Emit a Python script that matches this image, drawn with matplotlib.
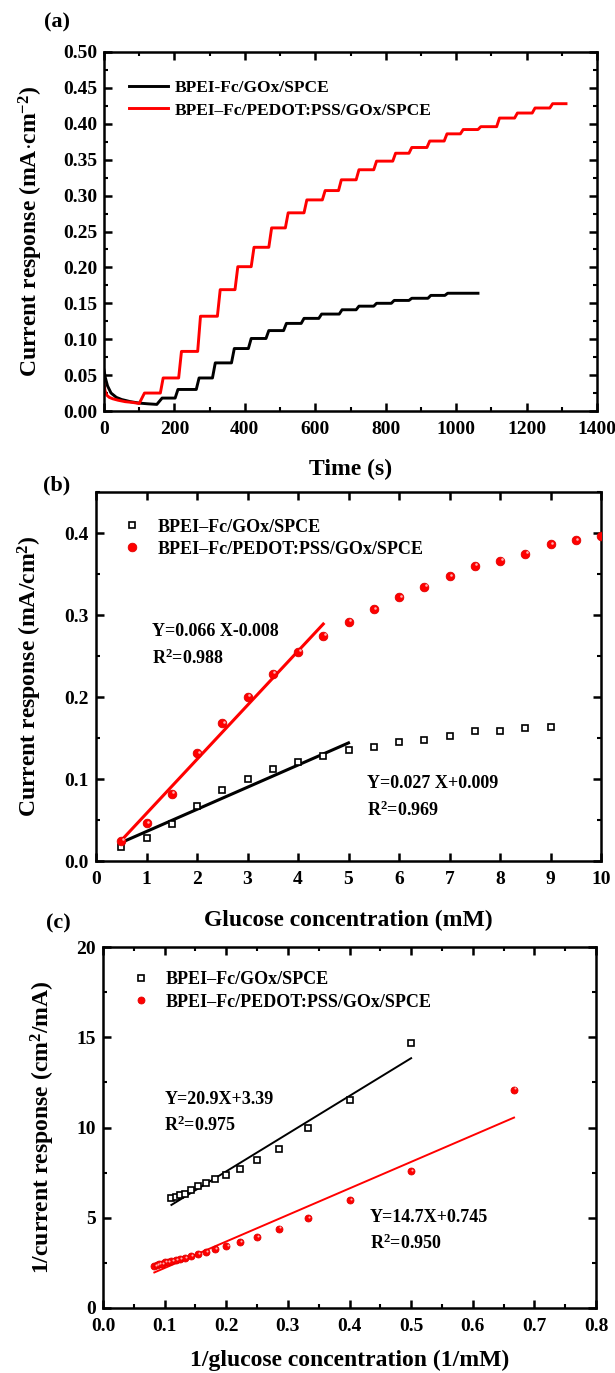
import matplotlib
matplotlib.use('Agg')
import matplotlib.pyplot as plt
import matplotlib.transforms as mtransforms
import numpy as np

plt.rcParams.update({
    'font.family': 'Liberation Serif',
    'font.weight': 'bold',
    'axes.labelweight': 'bold',
    'mathtext.fontset': 'custom',
    'mathtext.rm': 'Liberation Serif:bold',
    'mathtext.it': 'Liberation Serif:bold',
    'mathtext.bf': 'Liberation Serif:bold',
    'axes.linewidth': 1.8,
    'xtick.direction': 'in',
    'ytick.direction': 'in',
    'xtick.top': True,
    'ytick.right': True,
    'xtick.major.width': 1.8,
    'ytick.major.width': 1.8,
    'xtick.minor.width': 1.5,
    'ytick.minor.width': 1.5,
    'xtick.major.size': 5.5,
    'ytick.major.size': 5.5,
    'xtick.minor.size': 3,
    'ytick.minor.size': 3,
    'xtick.labelsize': 14,
    'ytick.labelsize': 14,
})

LABEL_BLACK = 'BPEI-Fc/GOx/SPCE'
LABEL_BLACK_B = 'BPEI\u2013Fc/GOx/SPCE'
LABEL_RED = 'BPEI\u2013Fc/PEDOT:PSS/GOx/SPCE'

# ---- (a) amperometric response ----
black_decay_t = [0, 4, 10, 20, 35, 50, 75, 100, 125, 150]
black_decay_y = [0.057, 0.046, 0.035, 0.025, 0.019, 0.016, 0.013, 0.011, 0.0100, 0.0092]
black_step_t = [157, 202, 262, 308, 362, 410, 460, 510, 560, 610, 668, 716, 766, 816, 866, 920, 968, 1018]
black_step_y = [0.018, 0.030, 0.046, 0.067, 0.087, 0.101, 0.112, 0.122, 0.129, 0.135,
                0.141, 0.146, 0.150, 0.154, 0.157, 0.161, 0.164, 0.164]
black_end_t = 1062

red_decay_t = [0, 3, 8, 15, 25, 40, 60, 80, 100]
red_decay_y = [0.038, 0.028, 0.022, 0.019, 0.017, 0.015, 0.013, 0.012, 0.0105]
red_step_t = [107, 160, 212, 266, 322, 372, 418, 468, 515, 568, 620, 666, 716, 766,
              820, 866, 917, 966, 1012, 1062, 1115, 1166, 1216, 1266]
red_step_y = [0.025, 0.046, 0.083, 0.132, 0.169, 0.201, 0.228, 0.255, 0.276, 0.294,
              0.307, 0.322, 0.336, 0.348, 0.359, 0.367, 0.376, 0.386, 0.392, 0.396,
              0.408, 0.415, 0.422, 0.428]
red_end_t = 1312

# ---- (b) calibration ----
conc_black = [0.5, 1, 1.5, 2, 2.5, 3, 3.5, 4, 4.5, 5, 5.5, 6, 6.5, 7, 7.5, 8, 8.5, 9]
resp_black = [0.0175, 0.0285, 0.045, 0.0676, 0.086, 0.0997, 0.112, 0.121, 0.1286, 0.135,
              0.1396, 0.145, 0.148, 0.152, 0.1587, 0.159, 0.1624, 0.1636]
conc_red = [0.5, 1, 1.5, 2, 2.5, 3, 3.5, 4, 4.5, 5, 5.5, 6, 6.5, 7, 7.5, 8, 8.5, 9, 9.5, 10]
resp_red = [0.025, 0.046, 0.082, 0.1315, 0.168, 0.200, 0.228, 0.255, 0.275, 0.292,
            0.307, 0.3215, 0.3345, 0.347, 0.360, 0.366, 0.375, 0.386, 0.391, 0.396]
fit_b_black = (0.027, 0.009, 0.5, 5.0)
fit_b_red = (0.066, -0.008, 0.5, 4.5)

# ---- (c) Lineweaver-Burk ----
inv_c_black = [0.111, 0.118, 0.125, 0.133, 0.143, 0.154, 0.167, 0.182, 0.200, 0.222,
               0.250, 0.286, 0.333, 0.400, 0.500]
inv_i_black = [6.10, 6.15, 6.25, 6.30, 6.55, 6.75, 6.90, 7.12, 7.35, 7.72,
               8.22, 8.83, 9.95, 11.5, 14.7]
inv_c_red = [0.0833, 0.087, 0.0909, 0.0952, 0.100, 0.105, 0.111, 0.118, 0.125, 0.133,
             0.143, 0.154, 0.167, 0.182, 0.200, 0.222, 0.250, 0.286, 0.333, 0.400,
             0.500, 0.667]
inv_i_red = [2.34, 2.37, 2.41, 2.45, 2.53, 2.55, 2.59, 2.66, 2.72, 2.78,
             2.88, 2.99, 3.11, 3.26, 3.42, 3.64, 3.92, 4.40, 5.00, 5.96,
             7.57, 12.1]
fit_c_black = (20.9, 3.39, 0.111, 0.500)
fit_c_red = (14.7, 0.745, 0.0833, 0.667)


def step_path(t0, y0, steps_t, steps_y, t_end, rise=8):
    xs, ys = list(t0), list(y0)
    for i, (t, y) in enumerate(zip(steps_t, steps_y)):
        xs.append(t + rise)
        ys.append(y)
        nxt = steps_t[i + 1] if i + 1 < len(steps_t) else t_end
        xs.append(nxt)
        ys.append(y)
    return xs, ys


def fit_line(ax, fit, color, lw):
    k, b, x0, x1 = fit
    xx = np.array([x0, x1])
    ax.plot(xx, k * xx + b, color=color, lw=lw, zorder=2)


def red_balls(ax, x, y, ms, label):
    # red sphere with a small highlight, like the Origin "ball" symbol
    ax.plot(x, y, ls='none', marker='o', ms=ms, mfc='red', mec='#e00000', mew=0.6,
            label=label, zorder=3)
    shift = mtransforms.offset_copy(ax.transData, fig=ax.figure, x=ms * 0.18, y=ms * 0.18,
                                    units='points')
    ax.plot(x, y, ls='none', marker='o', ms=ms * 0.3, mfc='#ffb0b0', mec='none',
            transform=shift, zorder=4)


W, H = 615, 1373
fig = plt.figure(figsize=(W / 100, H / 100), dpi=100)


def px_axes(left, top, right, bottom):
    return fig.add_axes([left / W, 1 - bottom / H, (right - left) / W, (bottom - top) / H])


# ---------- panel (a) ----------
ax1 = px_axes(104, 52, 597, 411)
bx, by = step_path(black_decay_t, black_decay_y, black_step_t, black_step_y, black_end_t)
rx, ry = step_path(red_decay_t, red_decay_y, red_step_t, red_step_y, red_end_t)
ax1.plot(bx, by, color='black', lw=2.1, label=LABEL_BLACK)
ax1.plot(rx, ry, color='red', lw=2.1, label=LABEL_RED)
ax1.set_xlim(0, 1400)
ax1.set_ylim(0, 0.5)
ax1.set_xticks(np.arange(0, 1401, 200))
ax1.set_xticks(np.arange(0, 1401, 100), minor=True)
ax1.set_yticks(np.arange(0, 0.501, 0.05))
ax1.set_yticks(np.arange(0, 0.501, 0.025), minor=True)
ax1.yaxis.set_major_formatter(matplotlib.ticker.FormatStrFormatter('%.2f'))
ax1.set_xlabel('Time (s)', fontsize=17, labelpad=15)
ax1.set_ylabel(r'Current response (mA$\cdot$cm$^{-2}$)', fontsize=17, labelpad=13)
ax1.legend(loc='upper left', bbox_to_anchor=(0.02, 0.965), frameon=False, fontsize=12.5,
           handlelength=2.2, handletextpad=0.4, labelspacing=0.35)

# ---------- panel (b) ----------
ax2 = px_axes(96, 492, 601, 861)
ax2.plot(conc_black, resp_black, ls='none', marker='s', ms=4.5, mfc='white', mec='black',
         mew=1.2, label=LABEL_BLACK_B, zorder=3)
red_balls(ax2, conc_red, resp_red, 6.2, LABEL_RED)
fit_line(ax2, fit_b_black, 'black', 2.2)
fit_line(ax2, fit_b_red, 'red', 2.2)
ax2.set_xlim(0, 10)
ax2.set_ylim(0, 0.45)
ax2.set_xticks(np.arange(0, 11, 1))
ax2.set_yticks(np.arange(0, 0.41, 0.1))
ax2.set_yticks(np.arange(0, 0.451, 0.05), minor=True)
ax2.yaxis.set_major_formatter(matplotlib.ticker.FormatStrFormatter('%.1f'))
ax2.set_xlabel('Glucose concentration (mM)', fontsize=17, labelpad=16)
ax2.set_ylabel(r'Current response (mA/cm$^{2}$)', fontsize=17, labelpad=15)
ax2.legend(loc='upper left', bbox_to_anchor=(0.018, 0.972), frameon=False, fontsize=13,
           handlelength=1.2, handletextpad=0.8, labelspacing=0.28, markerscale=1.0)
ax2.text(1.1, 0.28, 'Y=0.066 X-0.008', fontsize=13, va='center')
ax2.text(1.1, 0.2475, r'R$^{2}$=0.988', fontsize=13, va='center')
ax2.text(5.37, 0.094, 'Y=0.027 X+0.009', fontsize=13, va='center')
ax2.text(5.37, 0.062, r'R$^{2}$=0.969', fontsize=13, va='center')

# ---------- panel (c) ----------
ax3 = px_axes(103, 947, 596, 1308)
ax3.plot(inv_c_black, inv_i_black, ls='none', marker='s', ms=4.5, mfc='white', mec='black',
         mew=1.2, label=LABEL_BLACK_B, zorder=3)
red_balls(ax3, inv_c_red, inv_i_red, 5.0, LABEL_RED)
fit_line(ax3, fit_c_black, 'black', 1.4)
fit_line(ax3, fit_c_red, 'red', 1.4)
ax3.set_xlim(0, 0.8)
ax3.set_ylim(0, 20)
ax3.set_xticks(np.arange(0, 0.81, 0.1))
ax3.set_xticks(np.arange(0, 0.81, 0.05), minor=True)
ax3.set_yticks(np.arange(0, 21, 5))
ax3.set_yticks(np.arange(0, 20.1, 2.5), minor=True)
ax3.xaxis.set_major_formatter(matplotlib.ticker.FormatStrFormatter('%.1f'))
ax3.set_xlabel('1/glucose concentration (1/mM)', fontsize=17, labelpad=11)
ax3.set_ylabel(r'1/current response (cm$^{2}$/mA)', fontsize=17, labelpad=14)
ax3.legend(loc='upper left', bbox_to_anchor=(0.022, 0.979), frameon=False, fontsize=13,
           handlelength=1.2, handletextpad=0.75, labelspacing=0.32, markerscale=1.0)
ax3.text(0.0996, 11.54, 'Y=20.9X+3.39', fontsize=13, va='center')
ax3.text(0.0996, 10.12, r'R$^{2}$=0.975', fontsize=13, va='center')
ax3.text(0.433, 4.99, 'Y=14.7X+0.745', fontsize=13, va='center')
ax3.text(0.433, 3.56, r'R$^{2}$=0.950', fontsize=13, va='center')

for ax in (ax1, ax2, ax3):
    ax.tick_params(axis='x', which='both', pad=7)
    ax.tick_params(axis='y', which='both', pad=5)

fig.text(57 / W, 1 - 22 / H, '(a)', fontsize=16, ha='center', va='center')
fig.text(57 / W, 1 - 485 / H, '(b)', fontsize=16, ha='center', va='center')
fig.text(58 / W, 1 - 923 / H, '(c)', fontsize=16, ha='center', va='center')

fig.savefig('out.png', dpi=100)
